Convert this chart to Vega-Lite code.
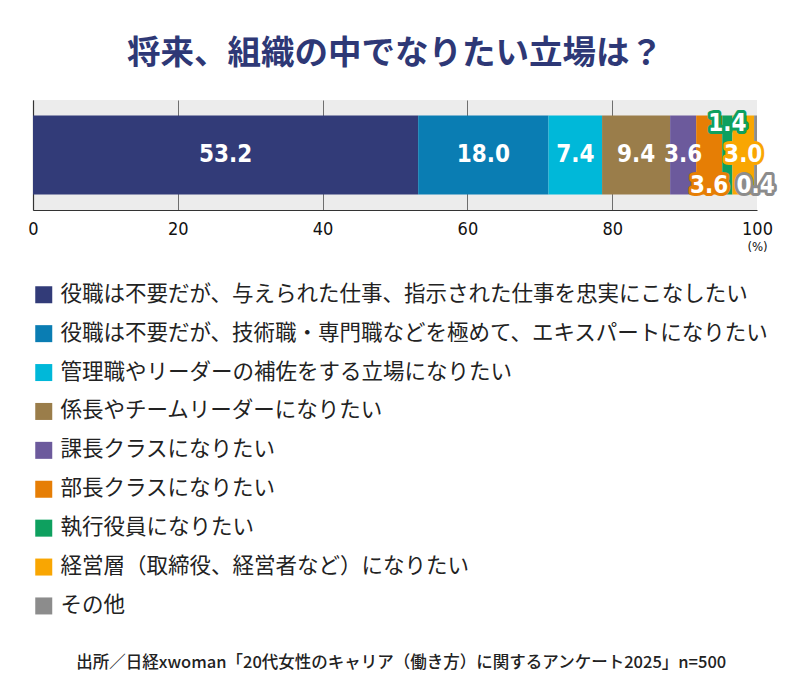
{
  "$schema": "https://vega.github.io/schema/vega-lite/v6.json",
  "padding": {"left": 27, "top": 36, "right": 44, "bottom": 10},
  "background": "white",
  "title": {
    "text": "出所／日経xwoman「20代女性のキャリア（働き方）に関するアンケート2025」n=500",
    "orient": "bottom",
    "anchor": "middle",
    "offset": 38,
    "font": "Noto Sans CJK JP",
    "fontSize": 16.5,
    "fontWeight": 500,
    "color": "#222222"
  },
  "vconcat": [
    {
      "title": {
        "text": "将来、組織の中でなりたい立場は？",
        "anchor": "middle",
        "offset": 29,
        "font": "Noto Sans CJK JP",
        "fontSize": 33.5,
        "fontWeight": "bold",
        "color": "#2e3876"
      },
      "width": 724,
      "height": 110,
      "view": {"fill": "#ececec", "stroke": null},
      "data": {
        "values": [
          {"category": "役職は不要だが、与えられた仕事、指示された仕事を忠実にこなしたい", "order": 1, "value": 53.2},
          {"category": "役職は不要だが、技術職・専門職などを極めて、エキスパートになりたい", "order": 2, "value": 18.0},
          {"category": "管理職やリーダーの補佐をする立場になりたい", "order": 3, "value": 7.4},
          {"category": "係長やチームリーダーになりたい", "order": 4, "value": 9.4},
          {"category": "課長クラスになりたい", "order": 5, "value": 3.6},
          {"category": "部長クラスになりたい", "order": 6, "value": 3.6},
          {"category": "執行役員になりたい", "order": 7, "value": 1.4},
          {"category": "経営層（取締役、経営者など）になりたい", "order": 8, "value": 3.0},
          {"category": "その他", "order": 9, "value": 0.4}
        ]
      },
      "transform": [
        {"stack": "value", "groupby": [], "sort": [{"field": "order", "order": "ascending"}], "as": ["x0", "x1"]}
      ],
      "encoding": {
        "y": {
          "datum": "all",
          "type": "nominal",
          "scale": {"paddingInner": 0, "paddingOuter": 0.196},
          "axis": {"domain": true, "domainColor": "#333333", "labels": false, "ticks": false, "title": null, "grid": false}
        }
      },
      "layer": [
        {
          "mark": {"type": "bar"},
          "encoding": {
            "x": {
              "field": "x0",
              "type": "quantitative",
              "scale": {"domain": [0, 100], "nice": false},
              "axis": {
                "values": [0, 20, 40, 60, 80, 100],
                "grid": true,
                "gridColor": "#6e6e6e",
                "gridOpacity": {"condition": {"test": "datum.value == 100", "value": 0}, "value": 1},
                "domainColor": "#333333",
                "ticks": false,
                "labelPadding": 10,
                "labelFont": "DejaVu Sans Condensed, Roboto, sans-serif",
                "labelFontSize": 18,
                "labelColor": "#111111",
                "labelFlush": false,
                "title": "(%)",
                "titleFont": "DejaVu Sans Condensed, Roboto, sans-serif",
                "titleFontSize": 13,
                "titleFontWeight": "normal",
                "titleColor": "#111111",
                "titleX": 724,
                "titleY": 30,
                "titleAlign": "center"
              }
            },
            "x2": {"field": "x1"},
            "color": {
              "field": "category",
              "type": "nominal",
              "sort": null,
              "scale": {
                "domain": [
                  "役職は不要だが、与えられた仕事、指示された仕事を忠実にこなしたい",
                  "役職は不要だが、技術職・専門職などを極めて、エキスパートになりたい",
                  "管理職やリーダーの補佐をする立場になりたい",
                  "係長やチームリーダーになりたい",
                  "課長クラスになりたい",
                  "部長クラスになりたい",
                  "執行役員になりたい",
                  "経営層（取締役、経営者など）になりたい",
                  "その他"
                ],
                "range": ["#323b78", "#0a7db3", "#00b8d9", "#9a7d4a", "#6c5a9c", "#e67e05", "#0ea05f", "#f9a602", "#8c8c8c"]
              },
              "legend": {
                "orient": "none",
                "legendX": 0,
                "legendY": 184,
                "direction": "vertical",
                "title": null,
                "symbolType": "square",
                "symbolSize": 289,
                "symbolStrokeWidth": 0,
                "symbolOpacity": 1,
                "labelFont": "Noto Sans CJK JP",
                "labelFontSize": 21.5,
                "labelColor": "#222222",
                "labelOffset": 6,
                "labelLimit": 800,
                "rowPadding": 15.9
              }
            }
          }
        },
        {
          "transform": [
            {"filter": "datum.order <= 5"},
            {"fold": ["x0", "x1"], "as": ["edge", "pos"]}
          ],
          "mark": {"type": "text", "color": "white", "font": "DejaVu Sans Condensed, Roboto, sans-serif", "fontSize": 24, "fontWeight": "bold", "baseline": "middle"},
          "encoding": {
            "x": {"aggregate": "mean", "field": "pos", "type": "quantitative"},
            "text": {"field": "value", "type": "quantitative", "format": ".1f"}
          }
        },
        {
          "transform": [
            {"filter": "datum.order == 7"},
            {"fold": ["x0", "x1"], "as": ["edge", "pos"]}
          ],
          "mark": {"type": "text", "font": "DejaVu Sans Condensed, Roboto, sans-serif", "fontSize": 24, "fontWeight": "bold", "baseline": "middle", "dy": -31, "strokeWidth": 6, "strokeJoin": "round", "fill": "white"},
          "encoding": {
            "x": {"aggregate": "mean", "field": "pos", "type": "quantitative"},
            "text": {"field": "value", "type": "quantitative", "format": ".1f"},
            "stroke": {"field": "category", "type": "nominal", "scale": {"domain": ["部長クラスになりたい", "執行役員になりたい", "経営層（取締役、経営者など）になりたい", "その他"], "range": ["#e67e05", "#0ea05f", "#f9a602", "#8c8c8c"]}, "legend": null}
          }
        },
        {
          "transform": [
            {"filter": "datum.order == 8"},
            {"fold": ["x0", "x1"], "as": ["edge", "pos"]}
          ],
          "mark": {"type": "text", "font": "DejaVu Sans Condensed, Roboto, sans-serif", "fontSize": 24, "fontWeight": "bold", "baseline": "middle", "dy": 0, "strokeWidth": 6, "strokeJoin": "round", "fill": "white"},
          "encoding": {
            "x": {"aggregate": "mean", "field": "pos", "type": "quantitative"},
            "text": {"field": "value", "type": "quantitative", "format": ".1f"},
            "stroke": {"field": "category", "type": "nominal", "legend": null}
          }
        },
        {
          "transform": [
            {"filter": "datum.order == 6 || datum.order == 9"},
            {"fold": ["x0", "x1"], "as": ["edge", "pos"]}
          ],
          "mark": {"type": "text", "font": "DejaVu Sans Condensed, Roboto, sans-serif", "fontSize": 24, "fontWeight": "bold", "baseline": "middle", "dy": 31, "strokeWidth": 6, "strokeJoin": "round", "fill": "white"},
          "encoding": {
            "x": {"aggregate": "mean", "field": "pos", "type": "quantitative"},
            "text": {"field": "value", "type": "quantitative", "format": ".1f"},
            "stroke": {"field": "category", "type": "nominal", "legend": null}
          }
        },
        {
          "transform": [
            {"filter": "datum.order == 7"},
            {"fold": ["x0", "x1"], "as": ["edge", "pos"]}
          ],
          "mark": {"type": "text", "color": "white", "font": "DejaVu Sans Condensed, Roboto, sans-serif", "fontSize": 24, "fontWeight": "bold", "baseline": "middle", "dy": -31},
          "encoding": {
            "x": {"aggregate": "mean", "field": "pos", "type": "quantitative"},
            "text": {"field": "value", "type": "quantitative", "format": ".1f"}
          }
        },
        {
          "transform": [
            {"filter": "datum.order == 8"},
            {"fold": ["x0", "x1"], "as": ["edge", "pos"]}
          ],
          "mark": {"type": "text", "color": "white", "font": "DejaVu Sans Condensed, Roboto, sans-serif", "fontSize": 24, "fontWeight": "bold", "baseline": "middle", "dy": 0},
          "encoding": {
            "x": {"aggregate": "mean", "field": "pos", "type": "quantitative"},
            "text": {"field": "value", "type": "quantitative", "format": ".1f"}
          }
        },
        {
          "transform": [
            {"filter": "datum.order == 6 || datum.order == 9"},
            {"fold": ["x0", "x1"], "as": ["edge", "pos"]}
          ],
          "mark": {"type": "text", "color": "white", "font": "DejaVu Sans Condensed, Roboto, sans-serif", "fontSize": 24, "fontWeight": "bold", "baseline": "middle", "dy": 31},
          "encoding": {
            "x": {"aggregate": "mean", "field": "pos", "type": "quantitative"},
            "text": {"field": "value", "type": "quantitative", "format": ".1f"}
          }
        }
      ],
      "resolve": {"scale": {"stroke": "shared"}}
    }
  ],
  "config": {
    "view": {"stroke": null},
    "axis": {"domainWidth": 1.2}
  }
}
